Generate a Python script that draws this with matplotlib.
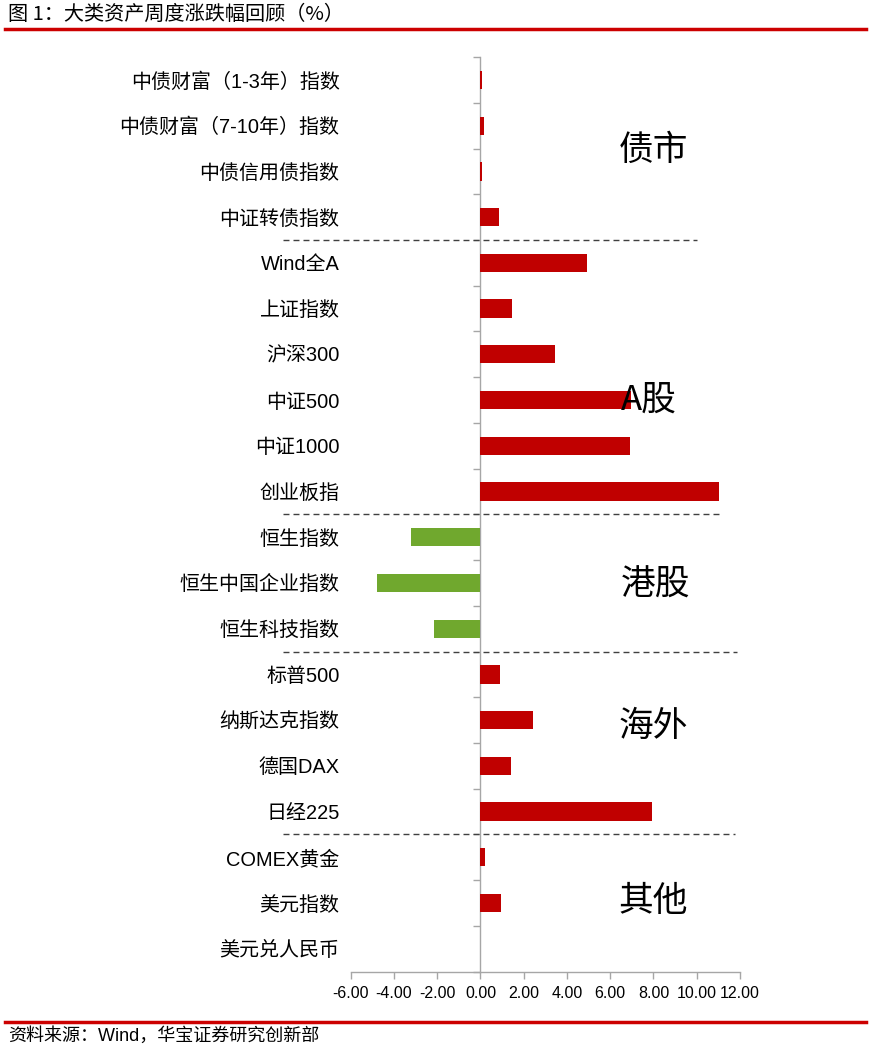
import numpy as np
import matplotlib
matplotlib.use('Agg')
import matplotlib.pyplot as plt
from matplotlib.lines import Line2D

plt.rcParams['font.family'] = ['Liberation Sans', 'Noto Sans CJK SC', 'DejaVu Sans']

categories = ['中债财富（1-3年）指数', '中债财富（7-10年）指数', '中债信用债指数', '中证转债指数',
              'Wind全A', '上证指数', '沪深300', '中证500', '中证1000', '创业板指',
              '恒生指数', '恒生中国企业指数', '恒生科技指数',
              '标普500', '纳斯达克指数', '德国DAX', '日经225',
              'COMEX黄金', '美元指数', '美元兑人民币']
values = [0.06, 0.17, 0.07, 0.85,
          4.91, 1.46, 3.44, 6.98, 6.93, 11.03,
          -3.22, -4.78, -2.14,
          0.92, 2.42, 1.40, 7.93,
          0.20, 0.95, -0.01]
groups = ['债市', 'A股', '港股', '海外', '其他']
group_breaks = [3.5, 9.5, 12.5, 16.5]
xticks = np.arange(-6, 13, 2)

red = '#C00000'
green = '#70A82E'
gray = '#A6A6A6'

fig = plt.figure(figsize=(8.72, 10.5), dpi=100)
ax = fig.add_axes([0.4022, 0.0746, 0.4464, 0.871])

# vertical zero axis with boundary ticks (drawn underneath the bars)
ax2 = ax.twinx()
ax.set_zorder(ax2.get_zorder() + 1)
ax.patch.set_visible(False)

y = np.arange(len(categories))
colors = [red if v >= 0 else green for v in values]
ax.barh(y, values, height=0.4, color=colors, zorder=3)

ax.set_xlim(-6, 12)
ax.set_ylim(len(categories) - 0.5, -0.5)
ax.set_yticks(y)
ax.set_yticklabels(categories, fontsize=14.4)
ax.tick_params(axis='y', length=0, pad=8)
ax.set_xticks(xticks)
ax.set_xticklabels(['%.2f' % t for t in xticks], fontsize=11.5)
ax.tick_params(axis='x', direction='out', length=5, color=gray, width=1, pad=5)
for s in ['top', 'left', 'right']:
    ax.spines[s].set_visible(False)
ax.spines['bottom'].set_color(gray)
ax.spines['bottom'].set_linewidth(1)

ax2.set_ylim(ax.get_ylim())
for s in ['top', 'left', 'bottom']:
    ax2.spines[s].set_visible(False)
ax2.spines['right'].set_position(('data', 0))
ax2.spines['right'].set_color(gray)
ax2.spines['right'].set_linewidth(1)
ax2.set_yticks(np.arange(-0.5, len(categories), 1))
ax2.tick_params(axis='y', direction='in', length=5, color=gray, width=1, labelright=False)

# group separators
ends = [10.0, 11.16, 11.85, 11.75]
for b, e in zip(group_breaks, ends):
    ax.plot([-9.14, e], [b, b], color='#404040', lw=1, linestyle=(0, (4.3, 2.9)),
            clip_on=False, zorder=4)

# group labels
group_pos = [(8.0, 1.53), (7.8, 7.0), (8.1, 11.04), (8.0, 14.14), (8.0, 17.96)]
for g, (gx, gy) in zip(groups, group_pos):
    ax.text(gx, gy, g, fontsize=25, ha='center', va='center', zorder=5,
            family=['Noto Sans CJK SC', 'DejaVu Sans'])

# header / footer
fig.text(8 / 872, 1 - 14 / 1050, '图 1：大类资产周度涨跌幅回顾（%）', fontsize=14.5,
         ha='left', va='center', family=['Noto Sans CJK SC', 'DejaVu Sans'])
fig.add_artist(Line2D([5 / 872, 866 / 872], [1 - 29 / 1050] * 2, color='#CC0000', lw=2.5))
fig.add_artist(Line2D([5 / 872, 866 / 872], [1 - 1022 / 1050] * 2, color='#CC0000', lw=2.5))
fig.text(8 / 872, 1 - 1036 / 1050, '资料来源：Wind，华宝证券研究创新部', fontsize=13,
         ha='left', va='center')

fig.savefig('out.png', dpi=100)
